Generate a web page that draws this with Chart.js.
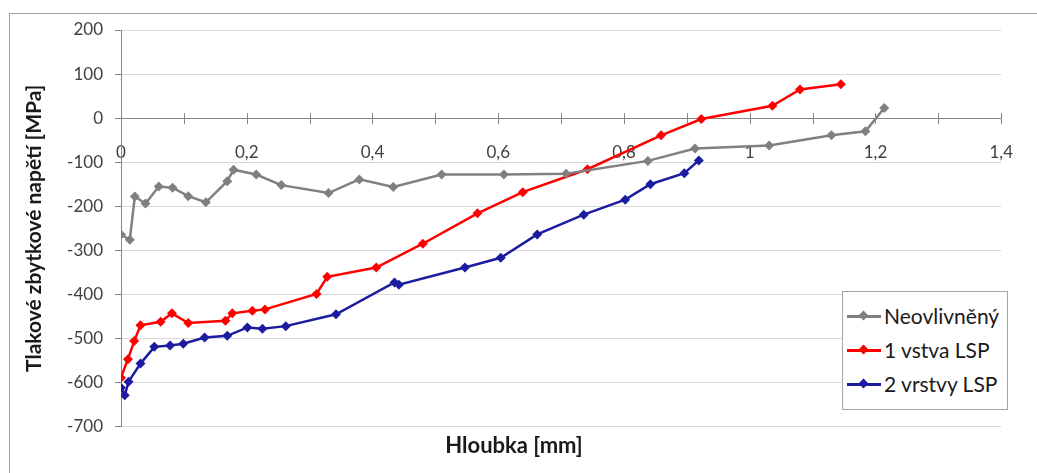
<!DOCTYPE html>
<html>
<head>
<meta charset="utf-8">
<script src="https://cdn.jsdelivr.net/npm/chart.js@4"></script>
<style>
  body { margin: 0; background: #fff; }
  #wrap { position: relative; width: 1037px; height: 473px; }
  #frame { position: absolute; left: 9px; top: 13px; width: 1040px; height: 470px;
           border-left: 1px solid #a0a0a0; border-top: 1px solid #a0a0a0; }
  #legend { position: absolute; left: 842px; top: 291px; width: 164px; height: 117px;
            border: 1px solid #a6a6a6; background: #fff; font-family: Lato, sans-serif;
            font-size: 21px; color: #1a1a1a; }
  .item { position: absolute; left: 4px; height: 26px; line-height: 26px; white-space: nowrap; }
  .sym { display: inline-block; position: relative; width: 34px; height: 26px; vertical-align: top; margin-right: 3px; }
  .sym i { position: absolute; left: 0; top: 12px; width: 34px; height: 2.5px; }
  .sym b { position: absolute; left: 13px; top: 9px; width: 7px; height: 7px; transform: rotate(45deg); }
</style>
</head>
<body>
<div id="wrap">
  <div id="frame"></div>
  <canvas id="myChart" width="1037" height="473"></canvas>
  <div id="legend"></div>
</div>
<script>
const xNeo = [0, 0.014, 0.022, 0.039, 0.060, 0.082, 0.107, 0.135, 0.169, 0.179, 0.215, 0.255, 0.330, 0.379, 0.433, 0.510, 0.609, 0.708, 0.838, 0.913, 1.031, 1.130, 1.184, 1.214];
const yNeo = [-264, -276, -178, -194, -155, -158, -177, -191, -143, -117, -128, -152, -170, -139, -156, -128, -128, -126, -97, -69, -62, -39, -30, 23];

const x1 = [0, 0.011, 0.021, 0.031, 0.063, 0.081, 0.107, 0.166, 0.177, 0.209, 0.229, 0.311, 0.328, 0.406, 0.480, 0.567, 0.639, 0.742, 0.859, 0.923, 1.036, 1.080, 1.145];
const y1 = [-589, -547, -506, -470, -462, -443, -465, -460, -443, -437, -434, -399, -360, -339, -285, -216, -168, -116, -39, -2, 28, 65, 77];

const x2 = [0, 0.006, 0.012, 0.031, 0.053, 0.078, 0.099, 0.133, 0.169, 0.201, 0.225, 0.262, 0.342, 0.435, 0.442, 0.547, 0.604, 0.662, 0.736, 0.802, 0.842, 0.896, 0.919];
const y2 = [-612, -629, -598, -557, -519, -516, -512, -498, -494, -475, -478, -472, -445, -373, -378, -339, -317, -264, -219, -185, -150, -125, -96];

const seriesNames = ['Neovlivněný', '1 vstva LSP', '2 vrstvy LSP'];
const seriesColors = ['#808080', '#ff0000', '#1c1ca0'];

function pts(xs, ys) {
  return xs.map((x, i) => ({ x: x, y: ys[i] }));
}

// crossing tick marks on the x axis (at y = 0)
const crossTicks = {
  id: 'crossTicks',
  afterDatasetsDraw(chart) {
    const xs = chart.scales.x, ys = chart.scales.y;
    const y0 = ys.getPixelForValue(0);
    const ctx = chart.ctx;
    ctx.save();
    ctx.strokeStyle = '#868686';
    ctx.lineWidth = 1;
    xs.ticks.forEach(t => {
      const px = Math.round(xs.getPixelForValue(t.value)) + 0.5;
      ctx.beginPath();
      ctx.moveTo(px, y0 - 5);
      ctx.lineTo(px, y0 + 6);
      ctx.stroke();
    });
    ctx.restore();
  }
};

const ctx = document.getElementById('myChart');

new Chart(ctx, {
  type: 'line',
  data: {
    datasets: [
      { label: seriesNames[0], data: pts(xNeo, yNeo) },
      { label: seriesNames[1], data: pts(x1, y1) },
      { label: seriesNames[2], data: pts(x2, y2) }
    ].map((d, i) => Object.assign(d, {
      borderColor: seriesColors[i],
      backgroundColor: seriesColors[i],
      borderWidth: 2.5,
      pointStyle: 'rectRot',
      pointRadius: 5,
      pointBorderWidth: 0,
      tension: 0
    }))
  },
  options: {
    responsive: false,
    animation: false,
    layout: { padding: { left: 18, top: 30, right: 27, bottom: 10 } },
    plugins: {
      legend: { display: false },
      tooltip: { enabled: false },
      title: {
        display: true,
        position: 'bottom',
        text: 'Hloubka [mm]',
        color: '#1a1a1a',
        font: { family: 'Lato', size: 22, weight: 'bold' },
        padding: { top: 6, bottom: 4 }
      }
    },
    scales: {
      x: {
        type: 'linear',
        position: { y: 0 },
        min: 0,
        max: 1.4,
        ticks: {
          stepSize: 0.1,
          padding: 24,
          color: '#404040',
          font: { family: 'Lato', size: 17 },
          callback: v => {
            const r = Math.round(v * 10);
            if (r % 2 !== 0) return '';
            return String(r / 10).replace('.', ',');
          }
        },
        grid: { drawOnChartArea: false, drawTicks: false },
        border: { color: '#868686', width: 1 }
      },
      y: {
        min: -700,
        max: 200,
        ticks: {
          stepSize: 100,
          padding: 12,
          color: '#404040',
          font: { family: 'Lato', size: 17 }
        },
        grid: { color: '#d9d9d9', tickLength: 6, tickColor: '#868686' },
        border: { color: '#868686', width: 1 },
        title: {
          display: true,
          text: 'Tlakové zbytkové napětí [MPa]',
          color: '#1a1a1a',
          font: { family: 'Lato', size: 21, weight: 'bold' },
          padding: { top: 4, bottom: 4 }
        },
        afterFit: s => { s.width = 103; }
      }
    }
  },
  plugins: [crossTicks]
});

const legend = document.getElementById('legend');
seriesNames.forEach((name, i) => {
  const it = document.createElement('div');
  it.className = 'item';
  it.style.top = (11 + i * 34) + 'px';
  it.innerHTML = '<span class="sym"><i style="background:' + seriesColors[i] + '"></i><b style="background:' + seriesColors[i] + '"></b></span>' + name;
  legend.appendChild(it);
});
</script>
</body>
</html>
